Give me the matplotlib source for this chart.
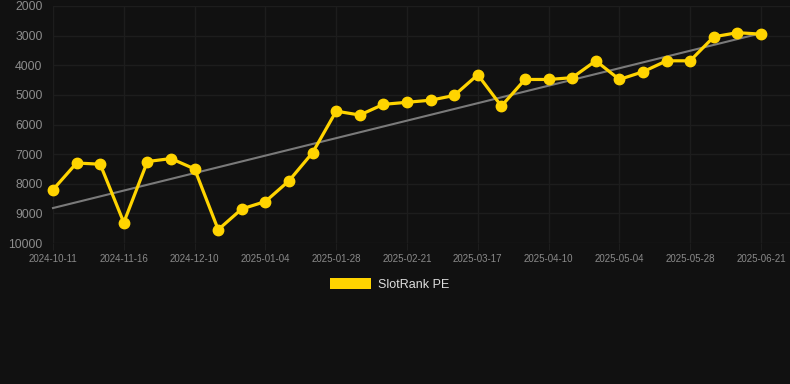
import numpy as np
import matplotlib.pyplot as plt
from matplotlib.patches import Patch

# SlotRank PE values (lower rank = better, axis inverted)
ranks = [8200, 7300, 7340, 9310, 7250, 7150, 7500, 9550, 8850, 8600,
         7900, 6950, 5550, 5680, 5320, 5250, 5180, 5020, 4320, 5380,
         4480, 4480, 4420, 3850, 4480, 4220, 3850, 3850, 3040, 2900, 2950]
tick_labels = ['2024-10-11', '2024-11-16', '2024-12-10', '2025-01-04',
               '2025-01-28', '2025-02-21', '2025-03-17', '2025-04-10',
               '2025-05-04', '2025-05-28', '2025-06-21']
trend_ends = [8820, 2920]

bg = '#111111'
grid_c = '#1d1d1d'
gold = '#FFD400'

plt.rcParams['font.family'] = ['Liberation Sans', 'DejaVu Sans']

fig = plt.figure(figsize=(7.9, 3.84), dpi=100, facecolor=bg)
ax = fig.add_axes([53 / 790, 1 - 243 / 384, 1 - 53 / 790, 237 / 384])
ax.set_facecolor(bg)

x = np.arange(len(ranks))
ax.plot([x[0], x[-1]], trend_ends, color='#7a7a7a', linewidth=1.5, zorder=2,
        clip_on=False)
ax.plot(x, ranks, color=gold, linewidth=2.3, marker='o', markersize=7.5,
        markerfacecolor=gold, markeredgecolor=gold, zorder=3, clip_on=False)

ax.set_ylim(10000, 2000)
ax.set_xlim(0, 31.23)
ax.set_yticks(range(2000, 10001, 1000))
ax.set_xticks(x[::3])
ax.set_xticklabels(tick_labels)

ax.grid(True, color=grid_c, linewidth=1)
for s in ax.spines.values():
    s.set_visible(False)
ax.tick_params(axis='y', length=0, pad=7.5, labelsize=8.8, labelcolor='#8c8c8c')
ax.tick_params(axis='x', length=5, color=grid_c, pad=3, labelsize=7, labelcolor='#8a8a8a')

fig.legend(handles=[Patch(facecolor=gold, edgecolor='none', label='SlotRank PE')],
           loc='center', bbox_to_anchor=(0.493, 0.26), frameon=False,
           fontsize=9, labelcolor='#dddddd', handlelength=3.3, handleheight=1.0,
           handletextpad=0.5)

fig.savefig('out.png', dpi=100, facecolor=bg)
